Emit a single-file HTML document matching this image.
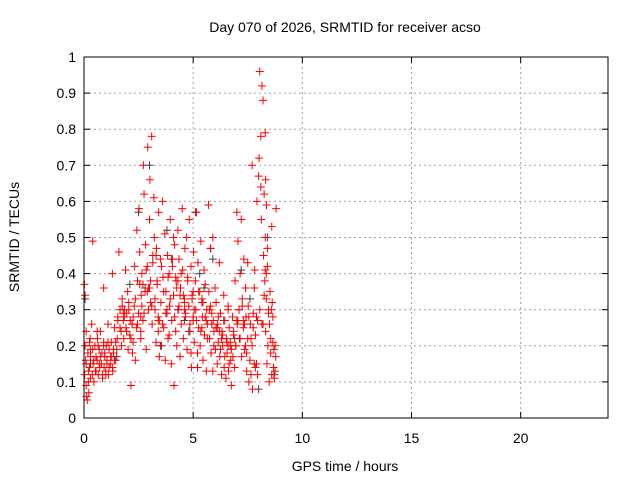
<!DOCTYPE html>
<html><head><meta charset="utf-8"><style>
body{margin:0;background:#fff}
svg{display:block;font-family:"Liberation Sans",sans-serif;font-size:14px}
</style></head><body>
<svg id="c" width="640" height="480">
<rect width="640" height="480" fill="#fff"/>
<text x="345" y="32" text-anchor="middle">Day 070 of 2026, SRMTID for receiver acso</text>
<text x="345" y="471" text-anchor="middle">GPS time / hours</text>
<text transform="translate(19,237) rotate(-90)" text-anchor="middle">SRMTID / TECUs</text>
<g id="grid"></g>
<g id="ticks"></g>
<g id="pts"></g>
<rect x="84" y="57" width="524" height="361" fill="none" stroke="#000" stroke-width="1"/>
</svg>
<script>
const xTicks=[0,5,10,15,20];
const yTicks=[0,0.1,0.2,0.3,0.4,0.5,0.6,0.7,0.8,0.9,1];
const yTickLabels=["0","0.1","0.2","0.3","0.4","0.5","0.6","0.7","0.8","0.9","1"];
const redT=[0.02,0.03,0.05,0.05,0.08,0.1,0.1,0.12,0.15,0.18,0.2,0.22,0.25,0.28,0.3,0.3,0.35,0.38,0.4,0.42,0.45,0.5,0.52,0.55,0.6,0.62,0.65,0.7,0.72,0.75,0.8,0.82,0.85,0.9,0.92,0.95,1.0,1.02,1.05,1.1,1.12,1.15,1.2,1.22,1.25,1.3,1.32,1.35,1.4,1.45,1.5,1.52,1.55,1.6,1.65,1.7,1.72,1.75,1.8,1.82,1.85,1.9,1.92,1.95,2.0,2.02,2.05,2.1,2.12,2.15,2.2,2.22,2.25,2.3,2.32,2.35,2.4,2.42,2.45,2.5,2.52,2.55,2.6,2.62,2.65,2.7,2.72,2.75,2.8,2.82,2.85,2.9,2.92,2.95,3.0,3.02,3.05,3.1,3.12,3.15,3.2,3.22,3.25,3.3,3.32,3.35,3.4,3.42,3.45,3.5,3.52,3.55,3.6,3.62,3.65,3.7,3.72,3.75,3.8,3.82,3.85,3.9,3.92,3.95,4.0,4.02,4.05,4.1,4.12,4.15,4.2,4.22,4.25,4.3,4.32,4.35,4.4,4.42,4.45,4.5,4.52,4.55,4.6,4.62,4.65,4.7,4.72,4.75,4.8,4.82,4.85,4.9,4.92,4.95,5.0,5.02,5.05,5.1,5.12,5.15,5.2,5.22,5.25,5.3,5.32,5.35,5.4,5.42,5.45,5.5,5.52,5.55,5.6,5.62,5.65,5.7,5.72,5.75,5.8,5.82,5.85,5.9,5.92,5.95,6.0,6.02,6.05,6.1,6.12,6.15,6.2,6.22,6.25,6.3,6.32,6.35,6.4,6.42,6.45,6.5,6.52,6.55,6.6,6.62,6.65,6.7,6.72,6.75,6.8,6.82,6.85,6.9,6.92,6.95,7.0,7.02,7.05,7.1,7.12,7.15,7.2,7.22,7.25,7.3,7.32,7.35,7.4,7.42,7.45,7.5,7.52,7.55,7.6,7.62,7.65,7.7,7.72,7.75,7.8,7.82,7.85,7.9,7.92,7.95,8.0,8.02,8.05,8.1,8.12,8.15,8.2,8.22,8.25,8.28,8.3,8.32,8.35,8.38,8.4,8.42,8.45,8.48,8.5,8.52,8.55,8.58,8.6,8.62,8.65,8.68,8.7,8.72,8.75,8.78,8.8,0.4,0.6,0.9,1.1,1.3,2.6,2.9,3.1,3.3,3.6,3.9,4.3,4.6,4.9,5.2,5.6,5.9,6.3,6.7,7.1,7.5,7.9,8.3,8.6,2.7,3.4,4.1,4.4,5.0,5.4,5.8,6.1,6.6,7.3,7.7,8.1,8.45,8.5];
const redV=[0.37,0.12,0.34,0.2,0.16,0.09,0.24,0.06,0.05,0.18,0.13,0.07,0.14,0.22,0.11,0.17,0.26,0.12,0.19,0.15,0.1,0.2,0.13,0.17,0.16,0.22,0.12,0.19,0.14,0.24,0.15,0.18,0.11,0.21,0.14,0.17,0.13,0.2,0.16,0.26,0.12,0.19,0.15,0.17,0.21,0.14,0.13,0.18,0.25,0.16,0.19,0.22,0.28,0.46,0.3,0.24,0.2,0.33,0.27,0.22,0.3,0.41,0.25,0.29,0.35,0.19,0.32,0.23,0.27,0.09,0.26,0.18,0.21,0.31,0.42,0.16,0.25,0.52,0.38,0.29,0.58,0.46,0.22,0.34,0.4,0.27,0.7,0.62,0.35,0.48,0.19,0.42,0.75,0.3,0.55,0.66,0.38,0.78,0.26,0.43,0.61,0.5,0.33,0.21,0.47,0.37,0.28,0.57,0.17,0.44,0.32,0.2,0.6,0.39,0.25,0.51,0.16,0.35,0.29,0.45,0.22,0.4,0.31,0.55,0.15,0.27,0.42,0.34,0.09,0.48,0.24,0.38,0.2,0.52,0.3,0.44,0.17,0.36,0.26,0.58,0.41,0.22,0.33,0.47,0.28,0.5,0.19,0.39,0.31,0.55,0.24,0.42,0.14,0.34,0.27,0.46,0.21,0.38,0.3,0.57,0.18,0.43,0.25,0.35,0.2,0.49,0.32,0.28,0.16,0.41,0.23,0.37,0.13,0.3,0.26,0.59,0.35,0.22,0.47,0.18,0.29,0.5,0.27,0.24,0.36,0.19,0.32,0.15,0.26,0.21,0.43,0.17,0.29,0.12,0.24,0.2,0.34,0.14,0.27,0.11,0.22,0.18,0.31,0.13,0.25,0.2,0.16,0.09,0.28,0.17,0.23,0.14,0.38,0.2,0.57,0.26,0.49,0.3,0.22,0.4,0.55,0.17,0.33,0.25,0.44,0.19,0.36,0.28,0.13,0.22,0.31,0.1,0.16,0.26,0.12,0.2,0.08,0.29,0.36,0.41,0.23,0.15,0.6,0.27,0.67,0.72,0.96,0.78,0.55,0.92,0.88,0.45,0.62,0.38,0.5,0.24,0.33,0.15,0.42,0.2,0.29,0.1,0.26,0.35,0.18,0.3,0.12,0.32,0.21,0.14,0.19,0.11,0.13,0.17,0.58,0.49,0.24,0.36,0.21,0.4,0.28,0.35,0.31,0.45,0.26,0.23,0.38,0.3,0.18,0.14,0.27,0.13,0.22,0.21,0.3,0.43,0.28,0.41,0.53,0.37,0.24,0.5,0.34,0.28,0.33,0.47,0.25,0.3,0.27,0.7,0.64];
const red2T=[0.1,0.2,0.3,0.45,0.55,0.65,0.75,0.85,0.95,1.05,1.15,1.25,1.35,1.45,1.55,1.65,1.75,1.85,1.95,2.05,2.15,2.25,2.35,2.45,2.55,2.65,2.75,2.85,2.95,3.05,3.15,3.25,3.35,3.45,3.55,3.65,3.75,3.85,3.95,4.05,4.15,4.25,4.35,4.45,4.55,4.65,4.75,4.85,4.95,5.05,5.15,5.25,5.35,5.45,5.55,5.65,5.75,5.85,5.95,6.05,6.15,6.25,6.35,6.45,6.55,6.65,6.75,6.85,6.95,7.05,7.15,7.25,7.35,7.45,7.55,7.65,7.75,7.85,7.95,8.05,8.15,8.25,8.35,8.45,8.55,8.65,8.75,8.3,8.32,8.36,8.4,0.25,0.7,1.0,1.4,1.8,2.2,2.6,3.0,3.4,3.8,4.2,4.6,5.0,5.4,5.8,6.2,6.6,7.0,7.4,7.8,8.2];
const red2V=[0.15,0.1,0.19,0.16,0.13,0.2,0.17,0.12,0.18,0.15,0.14,0.17,0.19,0.21,0.27,0.25,0.31,0.28,0.24,0.3,0.22,0.28,0.33,0.26,0.37,0.31,0.29,0.41,0.36,0.32,0.45,0.3,0.38,0.27,0.42,0.35,0.29,0.39,0.33,0.44,0.28,0.36,0.31,0.4,0.34,0.29,0.38,0.26,0.33,0.3,0.27,0.35,0.24,0.32,0.28,0.22,0.3,0.26,0.2,0.25,0.28,0.19,0.23,0.17,0.21,0.15,0.19,0.24,0.2,0.27,0.22,0.31,0.26,0.18,0.28,0.22,0.25,0.14,0.12,0.3,0.26,0.34,0.4,0.3,0.22,0.28,0.2,0.79,0.66,0.59,0.47,0.21,0.15,0.12,0.16,0.29,0.26,0.24,0.36,0.27,0.3,0.39,0.32,0.35,0.25,0.31,0.24,0.2,0.27,0.2,0.15,0.26];
const grayT=[0.05,0.3,0.9,1.5,2.1,2.5,3.0,3.5,4.0,4.3,4.8,5.1,5.5,5.9,6.4,6.9,7.2,7.6,8.0,8.4,8.7,3.8,4.6,5.3,2.8];
const grayV=[0.33,0.15,0.2,0.17,0.37,0.57,0.7,0.2,0.44,0.3,0.24,0.57,0.36,0.44,0.27,0.22,0.41,0.33,0.08,0.5,0.12,0.52,0.27,0.4,0.36];
const X=v=>84+v*(524/24), Y=v=>418-v*361;
const ns="http://www.w3.org/2000/svg";
const grid=document.getElementById('grid'),ticks=document.getElementById('ticks'),pts=document.getElementById('pts');
function ln(p,x1,y1,x2,y2,st,da){const l=document.createElementNS(ns,'line');l.setAttribute('x1',x1);l.setAttribute('y1',y1);l.setAttribute('x2',x2);l.setAttribute('y2',y2);l.setAttribute('stroke',st);if(da)l.setAttribute('stroke-dasharray',da);p.appendChild(l);return l;}
function tx(p,x,y,s,a){const t=document.createElementNS(ns,'text');t.setAttribute('x',x);t.setAttribute('y',y);t.setAttribute('text-anchor',a);t.textContent=s;p.appendChild(t);return t;}
yTicks.forEach((v,i)=>{const y=Y(v);
 if(i>0&&i<yTicks.length-1){const g=ln(grid,84,y,608,y,'#a0a0a0','2,3');
 
 }
 ln(ticks,84,y,90,y,'#000');ln(ticks,602,y,608,y,'#000');
 const t=tx(ticks,76,y+5,yTickLabels[i],'end');
 
 });
xTicks.forEach((v,i)=>{const x=X(v);
 if(i>0){const g=ln(grid,x,57,x,418,'#a0a0a0','2,3');
 
 }
 ln(ticks,x,418,x,412,'#000');ln(ticks,x,57,x,63,'#000');
 const t=tx(ticks,x,443,String(v),'middle');
 
 });
function plus(t,v,c,name){const x=X(t),y=Y(v);const p=document.createElementNS(ns,'path');
 p.setAttribute('d',`M${x-4},${y}h8M${x},${y-4}v8`);p.setAttribute('stroke',c);p.setAttribute('stroke-width','1');
 
 
 pts.appendChild(p);}
grayT.forEach((t,i)=>plus(t,grayV[i],'#404040','gray-point'));
redT.forEach((t,i)=>plus(t,redV[i],'#ff0000','red-point'));
red2T.forEach((t,i)=>plus(t,red2V[i],'#ff0000','red-point'));
</script>
</body></html>
